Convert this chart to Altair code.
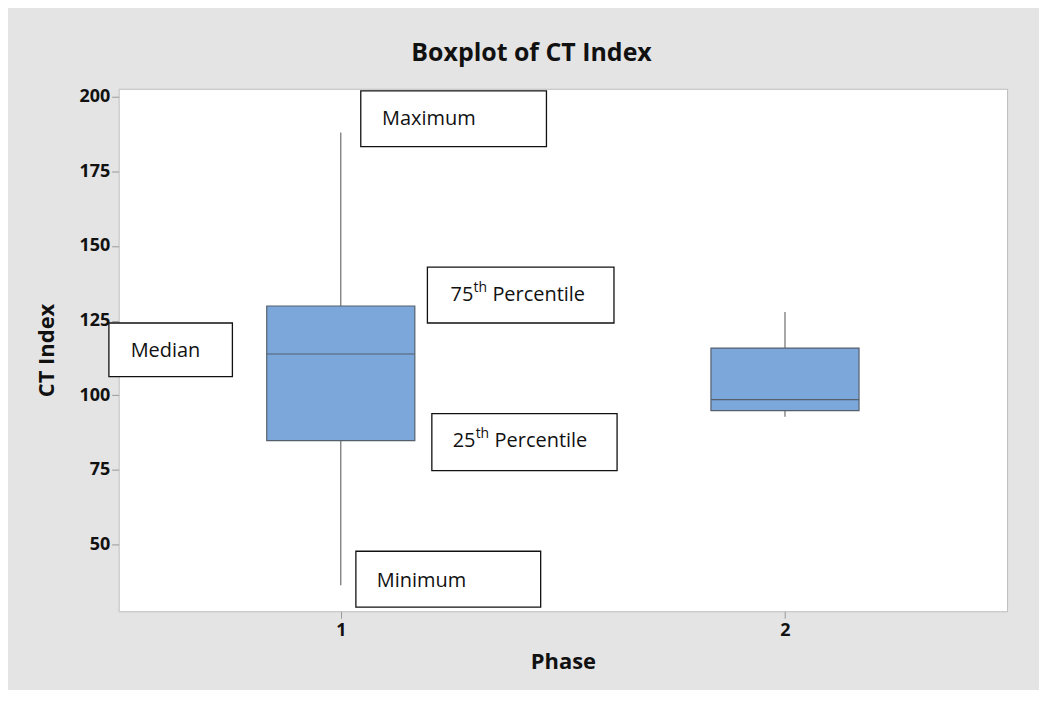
import altair as alt
import pandas as pd

# ---- box plot statistics ----
phases = [1, 2]
q_min = [36.3, 92.8]
q1 = [84.8, 94.8]
median = [113.8, 98.5]
q3 = [129.9, 115.8]
q_max = [188.0, 127.9]

# ---- annotation boxes ----
note_main = ["Maximum", "Median", "75", "25", "Minimum"]
note_sup = ["", "", "th", "th", ""]
note_rest = ["", "", "Percentile", "Percentile", ""]
note_x0 = [1.045, 0.478, 1.195, 1.205, 1.034]
note_x1 = [1.463, 0.756, 1.615, 1.622, 1.450]
note_y0 = [183.3, 106.2, 124.2, 74.7, 29.0]
note_y1 = [202.0, 124.2, 142.9, 93.8, 47.7]
note_tx = [1.093, 0.527, 1.247, 1.252, 1.081]
note_ty = [190.7, 112.8, 131.5, 82.8, 35.7]

y_ticks = [50, 75, 100, 125, 150, 175, 200]

FONT = "Open Sans"

boxes = pd.DataFrame({"phase": phases, "lo": q_min, "q1": q1, "med": median,
                      "q3": q3, "hi": q_max})
notes = pd.DataFrame({"main": note_main, "sup": note_sup, "rest": note_rest,
                      "x0": note_x0, "x1": note_x1, "y0": note_y0, "y1": note_y1,
                      "tx": note_tx, "ty": note_ty})

xscale = alt.Scale(domain=[0.5, 2.5], nice=False, zero=False)
yscale = alt.Scale(domain=[27.6, 202.7], nice=False, zero=False)
xaxis = alt.Axis(values=phases, format="d", title="Phase", grid=False, domain=False,
                 tickColor="#9a9a9a", tickSize=7, labelPadding=3,
                 labelFont=FONT, labelFontSize=18, labelFontWeight="bold", labelColor="#111",
                 titleFont=FONT, titleFontSize=22, titleFontWeight="bold", titleColor="#111",
                 titlePadding=12)
yaxis = alt.Axis(values=y_ticks, title="CT Index", grid=False, domain=False,
                 tickColor="#9a9a9a", tickSize=7, labelPadding=2,
                 labelFont=FONT, labelFontSize=18, labelFontWeight="bold", labelColor="#111",
                 titleFont=FONT, titleFontSize=22, titleFontWeight="bold", titleColor="#111",
                 titlePadding=20)

base = alt.Chart(boxes)
HALF = 0.1667

whisk = base.mark_rule(color="#6e6e6e", strokeWidth=1.2).encode(
    x=alt.X("phase:Q", scale=xscale, axis=xaxis),
    y=alt.Y("lo:Q", scale=yscale, axis=yaxis),
    y2="hi:Q",
)
box = base.transform_calculate(
    xa=f"datum.phase - {HALF}", xb=f"datum.phase + {HALF}"
).mark_rect(fill="#7ba7db", stroke="#56606c", strokeWidth=1.2).encode(
    x=alt.X("xa:Q", scale=xscale, axis=xaxis), x2="xb:Q",
    y=alt.Y("q1:Q", scale=yscale, axis=yaxis), y2="q3:Q",
)
med = base.transform_calculate(
    xa=f"datum.phase - {HALF}", xb=f"datum.phase + {HALF}"
).mark_rule(color="#56606c", strokeWidth=1.2).encode(
    x=alt.X("xa:Q", scale=xscale, axis=xaxis), x2="xb:Q",
    y=alt.Y("med:Q", scale=yscale, axis=yaxis),
)

nbase = alt.Chart(notes)
nbox = nbase.mark_rect(fill="white", stroke="#111", strokeWidth=1.3).encode(
    x=alt.X("x0:Q", scale=xscale, axis=xaxis), x2="x1:Q",
    y=alt.Y("y0:Q", scale=yscale, axis=yaxis), y2="y1:Q",
)
tmain = nbase.mark_text(align="left", baseline="alphabetic", font=FONT, fontSize=20,
                        color="#111").encode(
    x=alt.X("tx:Q", scale=xscale, axis=xaxis),
    y=alt.Y("ty:Q", scale=yscale, axis=yaxis),
    text="main:N",
)
tsup = nbase.transform_filter("datum.sup != ''").mark_text(
    align="left", baseline="alphabetic", font=FONT, fontSize=14, color="#111",
    dx=23, dy=-9).encode(
    x=alt.X("tx:Q", scale=xscale, axis=xaxis),
    y=alt.Y("ty:Q", scale=yscale, axis=yaxis),
    text="sup:N",
)
trest = nbase.transform_filter("datum.rest != ''").mark_text(
    align="left", baseline="alphabetic", font=FONT, fontSize=20, color="#111",
    dx=42).encode(
    x=alt.X("tx:Q", scale=xscale, axis=xaxis),
    y=alt.Y("ty:Q", scale=yscale, axis=yaxis),
    text="rest:N",
)

chart = alt.layer(whisk, box, med, nbox, tmain, tsup, trest).properties(
    width=891, height=524,
    title=alt.TitleParams("Boxplot of CT Index", font=FONT, fontSize=25,
                          fontWeight="bold", color="#111", anchor="middle",
                          frame="bounds", offset=22, dx=10),
    autosize="none",
    padding={"left": 111, "top": 80, "right": 32, "bottom": 78},
    background="#e4e4e4",
).configure_view(fill="white", stroke="#bdbdbd", strokeWidth=1)

chart.save("out.html", embed_options={"renderer": "svg", "actions": False})
